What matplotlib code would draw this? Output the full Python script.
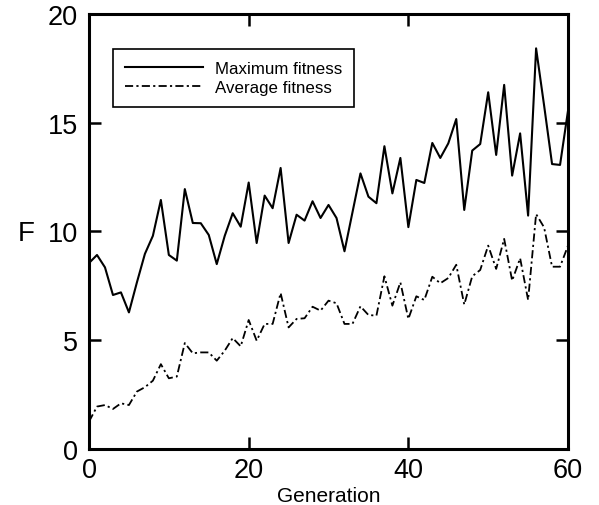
import matplotlib
matplotlib.use("Agg")
import matplotlib.pyplot as plt
import numpy as np

plt.rcParams['font.family'] = ['Liberation Sans', 'DejaVu Sans']

generation = np.arange(0, 61)

max_fitness = [
    8.55, 8.92, 8.35, 7.08, 7.2, 6.28, 7.66, 8.97, 9.8, 11.45,
    8.92, 8.66, 11.95, 10.39, 10.38, 9.84, 8.5, 9.8, 10.84, 10.22,
    12.25, 9.47, 11.65, 11.07, 12.92, 9.47, 10.77, 10.5, 11.39, 10.62,
    11.22, 10.62, 9.09, 10.88, 12.67, 11.6, 11.3, 13.92, 11.75, 13.38,
    10.2, 12.37, 12.23, 14.07, 13.38, 14.05, 15.17, 10.99, 13.72, 14.02,
    16.4, 13.52, 16.74, 12.57, 14.51, 10.73, 18.42, 15.8, 13.1, 13.06,
    15.56,
]

avg_fitness = [
    1.26, 1.95, 2.02, 1.84, 2.1, 2.02, 2.64, 2.84, 3.14, 3.9,
    3.25, 3.33, 4.87, 4.4, 4.44, 4.44, 4.06, 4.52, 5.1, 4.72,
    5.93, 4.98, 5.75, 5.75, 7.17, 5.59, 5.98, 6.01, 6.54, 6.36,
    6.82, 6.7, 5.75, 5.75, 6.56, 6.16, 6.13, 7.94, 6.59, 7.66,
    5.98, 7.02, 6.85, 7.92, 7.62, 7.86, 8.47, 6.64, 7.94, 8.23,
    9.35, 8.28, 9.66, 7.74, 8.77, 6.85, 10.8, 10.19, 8.38, 8.38,
    9.35,
]

x_ticks = [0, 20, 40, 60]
y_ticks = [0, 5, 10, 15, 20]

fig = plt.figure(figsize=(5.99, 5.06), dpi=100)
ax = fig.add_axes([0.1486, 0.1107, 0.7997, 0.8597])

ax.plot(generation, max_fitness, color='black', lw=1.5, label='Maximum fitness')
ax.plot(generation, avg_fitness, color='black', lw=1.3,
        linestyle=(0, (4.5, 1.8, 1.2, 1.8)), label='Average fitness')

ax.set_xlim(0, 60)
ax.set_ylim(0, 20)
ax.set_xticks(x_ticks)
ax.set_yticks(y_ticks)

for side in ['left', 'right', 'top', 'bottom']:
    ax.spines[side].set_linewidth(2.2)

ax.tick_params(axis='both', which='major', direction='in', length=8.5, width=1.8,
               top=True, right=True, labelsize=19.5)
ax.tick_params(axis='y', pad=8)
ax.tick_params(axis='x', pad=6)

ax.set_xlabel('Generation', fontsize=15, labelpad=2)
ax.set_ylabel('F', fontsize=20, rotation=0, va='center', ha='center')
ax.yaxis.set_label_coords(-0.131, 0.497)

leg = ax.legend(loc='upper left', bbox_to_anchor=(0.05, 0.9195), fontsize=12.2,
                handlelength=4.6, handletextpad=0.7, borderpad=0.7,
                labelspacing=0.25, borderaxespad=0, fancybox=False, framealpha=1)
leg.get_frame().set_edgecolor('black')
leg.get_frame().set_linewidth(1.2)

fig.savefig('out.png', dpi=100)
